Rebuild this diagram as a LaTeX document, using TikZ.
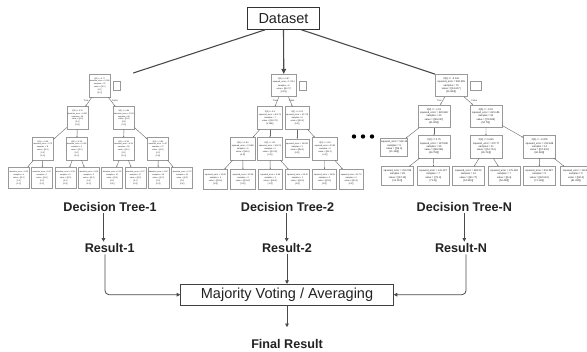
\documentclass[tikz,border=0pt]{standalone}
\usepackage{fontspec}
\setmainfont{Liberation Sans}
\usetikzlibrary{arrows.meta}
\definecolor{lc}{HTML}{4A4A4A}
\definecolor{bc}{HTML}{999999}
\definecolor{tc}{HTML}{222222}
\newcommand\fA{\fontsize{1.95}{2.9}\selectfont}
\newcommand\fB{\fontsize{2.1}{3.1}\selectfont}
\newcommand\fC{\fontsize{2.5}{3.3}\selectfont}
\tikzset{
  tb/.style={draw=bc, line width=0.55pt, fill=white, align=center, inner sep=0.4pt, text=black!88},
  tA/.style={tb, font=\fA, minimum width=21pt, minimum height=22.5pt},
  tAl/.style={tb, font=\fA, minimum width=21pt, minimum height=21pt},
  tB/.style={tb, font=\fB, minimum width=24.5pt, minimum height=22.5pt},
  tBl/.style={tb, font=\fB, minimum width=24.5pt, minimum height=19.5pt},
  tC/.style={tb, font=\fC, minimum width=32pt, minimum height=22.3pt},
  tCl/.style={tb, font=\fC, minimum width=31.6pt, minimum height=18.3pt},
  sqbox/.style={draw=bc, line width=0.55pt, fill=white, inner sep=0pt},
  te/.style={draw=black!60, line width=0.4pt, -{Stealth[length=1.4pt,width=1.2pt]}},
  el/.style={font=\fontsize{2.3}{2.7}\selectfont, text=black!80, inner sep=0pt},
  lab/.style={font=\fontsize{12.6}{14}\selectfont\bfseries, text=tc, inner sep=1.5pt},
  arr/.style={draw=lc, line width=0.8pt, -{Triangle[length=3.6pt,width=3.6pt]}},
  dsl/.style={draw=lc, line width=1.1pt},
}
\begin{document}
\begin{tikzpicture}[x=1pt,y=-1pt]
\clip (0,0) rectangle (587,352);
\fill[white] (0,0) rectangle (587,352);

% Dataset
\node[draw=black!80, line width=0.9pt, minimum width=71.6pt, minimum height=22pt, inner sep=0pt,
      font=\fontsize{14.5}{16}\selectfont, text=tc] (ds) at (283.5,18.4) {Dataset};

% ---------------- Tree 1 ----------------
\node[tA] (a0) at (99.7,85.8) {X[2] <= 0.77\\absolute\_error = 0.006\\samples = 75\\value = [[0.0]\\{}[0.0]\\{}[0.0]]};
\node[sqbox, minimum width=6.5pt, minimum height=9.5pt] (a0s) at (116.8,85.8) {};
\node[tA] (a1) at (77.5,118) {X[2] <= 0.76\\absolute\_error = 0.007\\samples = 19\\value = [[0.0]\\{}[0.0]\\{}[0.0]]};
\node[tA] (a2) at (123.9,118) {X[1] <= 0.84\\absolute\_error = 0.011\\samples = 56\\value = [[0.0]\\{}[0.0]\\{}[0.0]]};
\node[tA] (a3) at (42.8,148.8) {X[0] <= 0.68\\absolute\_error = 0.73\\samples = 11\\value = [[0.0]\\{}[0.0]\\{}[0.0]]};
\node[tA] (a4) at (76.7,148.8) {X[3] <= 0.59\\absolute\_error = 0.005\\samples = 8\\value = [[0.0]\\{}[0.0]\\{}[0.0]]};
\node[tA] (a5) at (123.7,148.8) {X[2] <= 0.83\\absolute\_error = 0.06\\samples = 29\\value = [[0.0]\\{}[0.0]\\{}[0.0]]};
\node[tA] (a6) at (158,148.8) {X[0] <= 0.85\\absolute\_error = 0.07\\samples = 27\\value = [[0.0]\\{}[0.0]\\{}[0.0]]};
\node[tAl] (a7) at (18.8,177.8) {absolute\_error = 0.25\\samples = 4\\value = [[0.0]\\{}[0.0]\\{}[1.0]]};
\node[tAl] (a8) at (42,177.8) {absolute\_error = 0.17\\samples = 7\\value = [[0.0]\\{}[0.0]\\{}[1.0]]};
\node[tAl] (a9) at (65.5,177.8) {absolute\_error = 0.33\\samples = 5\\value = [[0.0]\\{}[0.0]\\{}[0.0]]};
\node[tAl] (a10) at (88.8,177.8) {absolute\_error = 0.06\\samples = 3\\value = [[0.0]\\{}[0.0]\\{}[0.0]]};
\node[tAl] (a11) at (112.2,177.8) {absolute\_error = 0.25\\samples = 12\\value = [[0.0]\\{}[0.0]\\{}[0.0]]};
\node[tAl] (a12) at (135.5,177.8) {absolute\_error = 0.27\\samples = 17\\value = [[0.0]\\{}[0.0]\\{}[0.0]]};
\node[tAl] (a13) at (158.3,177.8) {absolute\_error = 0.40\\samples = 14\\value = [[0.0]\\{}[0.0]\\{}[0.0]]};
\node[tAl] (a14) at (182.2,177.8) {absolute\_error = 0.73\\samples = 13\\value = [[0.0]\\{}[0.0]\\{}[0.0]]};
\foreach \p/\c in {a0/a1,a0/a2,a1/a3,a1/a4,a2/a5,a2/a6,a3/a7,a3/a8,a4/a9,a4/a10,a5/a11,a5/a12,a6/a13,a6/a14}
  \draw[te] (\p) -- (\c);
\node[el] (a0t) at (86,100.7) {True};
\node[el] (a0f) at (115,100.7) {False};

% ---------------- Tree 2 ----------------
\node[tB] (b0) at (283.8,85.5) {X[2] <= 0.87\\squared\_error = 17.513\\samples = 8\\value = [[90.77]\\{}[4.23]]};
\node[sqbox, minimum width=7.7pt, minimum height=9.7pt] (b0s) at (302.8,85.8) {};
\node[tB] (b1) at (270,118) {X[2] <= 0.5\\squared\_error = 40.175\\samples = 7\\value = [[91.071]\\{}[4.286]]};
\node[tB] (b2) at (297.2,118) {X[1] <= 0.22\\squared\_error = 20.775\\samples = 6\\value = [[90.5]\\{}[4.0]]};
\node[tB] (b3) at (242.8,148.8) {X[0] <= 1.84\\squared\_error = 21.986\\samples = 5\\value = [[92.6]\\{}[4.4]]};
\node[tB] (b4) at (270,148.8) {X[3] <= 1.11\\squared\_error = 34.674\\samples = 2\\value = [[87.25]\\{}[4.0]]};
\node[tb, font=\fB, minimum width=24.5pt, minimum height=18.3pt] (b5) at (297.2,148.2) {squared\_error = 19.631\\samples = 1\\value = [[88.0]\\{}[4.0]]};
\node[tB, minimum width=25.4pt] (b6) at (325,148.8) {X[2] <= 1.18\\squared\_error = 22.62\\samples = 5\\value = [[91.0]\\{}[4.0]]};
\node[tBl] (b7) at (215.5,179.2) {squared\_error = 12.25\\samples = 3\\value = [[93.5]\\{}[1.5]]};
\node[tBl] (b8) at (243,179.2) {squared\_error = 22.04\\samples = 2\\value = [[91.67]\\{}[4.0]]};
\node[tBl] (b9) at (270.3,179.2) {squared\_error = 6.48\\samples = 1\\value = [[84.0]\\{}[1.0]]};
\node[tBl] (b10) at (297.5,179.2) {squared\_error = 26.12\\samples = 1\\value = [[90.5]\\{}[3.0]]};
\node[tBl] (b11) at (324.5,179.2) {squared\_error = 18.28\\samples = 3\\value = [[91.5]\\{}[4.0]]};
\node[tBl] (b12) at (351.2,179.2) {squared\_error = 11.75\\samples = 2\\value = [[90.0]\\{}[4.0]]};
\foreach \p/\c in {b0/b1,b0/b2,b1/b3,b1/b4,b2/b5,b2/b6,b3/b7,b3/b8,b4/b9,b4/b10,b6/b11,b6/b12}
  \draw[te] (\p) -- (\c);
\node[el] (b0t) at (275,100.7) {True};
\node[el] (b0f) at (291.7,100.7) {False};

% dots
\foreach \i/\x in {1/354,2/363,3/372}
  \node[circle, fill=black, inner sep=0pt, minimum size=4.4pt] (dot\i) at (\x,136.5) {};

% ---------------- Tree N ----------------
\node[tC] (c0) at (451.2,85.5) {X[2] <= -0.116\\squared\_error = 592.305\\samples = 75\\value = [[61.617]\\{}[61.904]]};
\node[sqbox, minimum width=11pt, minimum height=9.7pt] (c0s) at (476.2,85.8) {};
\node[tC] (c1) at (434,116.2) {X[2] <= -1.01\\squared\_error = 320.849\\samples = 40\\value = [[56.247]\\{}[41.842]]};
\node[tC] (c2) at (485.8,116.2) {X[3] <= -0.31\\squared\_error = 615.185\\samples = 35\\value = [[70.553]\\{}[54.73]]};
\node[tb, font=\fC, minimum width=21.7pt, minimum height=17.7pt] (c3) at (394.2,147.2) {squared\_error = 542.15\\samples = 5\\value = [[53.0]\\{}[21.136]]};
\node[tC] (c4) at (434,146.7) {X[2] <= 0.75\\squared\_error = 197.808\\samples = 35\\value = [[58.354]\\{}[43.759]]};
\node[tC] (c5) at (486.2,146.7) {X[2] <= 0.615\\squared\_error = 472.77\\samples = 21\\value = [[51.714]\\{}[45.714]]};
\node[tC] (c6) at (539.5,146.7) {X[2] <= -0.229\\squared\_error = 212.648\\samples = 14\\value = [[67.515]\\{}[60.048]]};
\node[tCl] (c7) at (397.5,175.8) {squared\_error = 153.789\\samples = 28\\value = [[67.15]\\{}[41.113]]};
\node[tCl] (c8) at (433.2,175.8) {squared\_error = 141.107\\samples = 7\\value = [[71.0]\\{}[71.0]]};
\node[tCl] (c9) at (468.3,175.8) {squared\_error = 469.23\\samples = 14\\value = [[51.77]\\{}[54.349]]};
\node[tCl] (c10) at (504.2,175.8) {squared\_error = 175.184\\samples = 7\\value = [[6.4]\\{}[54.429]]};
\node[tCl] (c11) at (539.2,175.8) {squared\_error = 210.087\\samples = 9\\value = [[60.513]\\{}[71.113]]};
\node[tCl] (c12) at (576,175.8) {squared\_error = 113.61\\samples = 5\\value = [[60.0]\\{}[61.035]]};
\foreach \p/\c in {c0/c1,c0/c2,c1/c3,c1/c4,c2/c5,c2/c6,c4/c7,c4/c8,c5/c9,c5/c10,c6/c11,c6/c12}
  \draw[te] (\p) -- (\c);
\node[el] (c0t) at (439.3,100.7) {True};
\node[el] (c0f) at (474.3,100.7) {False};

% Dataset connectors
\coordinate (l1end) at (133.3,73);
\draw[dsl] ([xshift=-18.5pt]ds.south) -- (l1end);
\draw[dsl, -{Triangle[length=5pt,width=4.5pt]}] (ds.south) -- (b0.north);
\draw[dsl] ([xshift=18pt]ds.south) -- (c0.north west);

% ---------------- Bottom ----------------
\node[lab] (dt1) at (110,206.5) {Decision Tree-1};
\node[lab] (dt2) at (287.5,206.5) {Decision Tree-2};
\node[lab] (dtn) at (464.3,206.5) {Decision Tree-N};
\node[lab] (r1) at (109.7,248) {Result-1};
\node[lab] (r2) at (287,248) {Result-2};
\node[lab] (rn) at (461,248) {Result-N};
\node[draw=black!75, line width=0.8pt, minimum width=212.6pt, minimum height=20.7pt, inner sep=0pt,
      font=\fontsize{14.5}{16}\selectfont, text=tc] (mv) at (287,294.7) {Majority Voting / Averaging};
\node[lab] (fr) at (287,343.5) {Final Result};

\draw[arr] ([xshift=-6.5pt]dt1.south) -- ([xshift=-6.5pt]dt1.south |- r1.north);
\draw[arr] ([xshift=-0.8pt]dt2.south) -- ([xshift=-0.8pt]dt2.south |- r2.north);
\draw[arr] (dtn.south) -- (dtn.south |- rn.north);
\draw[arr, rounded corners=4pt] ([xshift=-4.7pt]r1.south) |- (mv.west);
\draw[arr] (r2.south) -- (mv.north);
\draw[arr, rounded corners=4pt] ([xshift=5pt]rn.south) |- (mv.east);
\draw[arr] (mv.south) -- ([yshift=10pt]fr.north);
\end{tikzpicture}
\end{document}
